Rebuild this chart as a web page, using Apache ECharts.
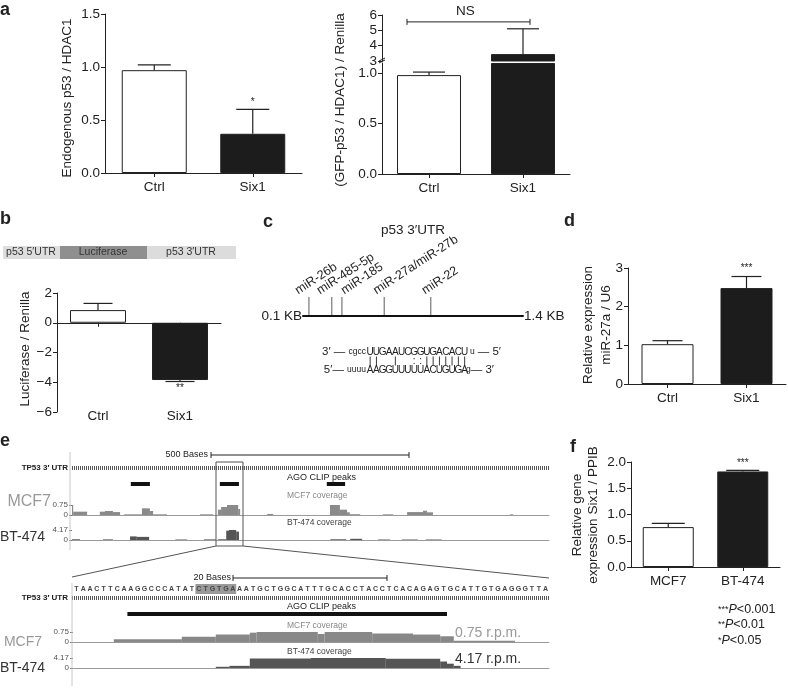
<!DOCTYPE html>
<html>
<head>
<meta charset="utf-8">
<script src="https://cdn.jsdelivr.net/npm/echarts@6/dist/echarts.min.js"></script>
<style>
  html, body { margin: 0; padding: 0; background: #fff; }
  #chart { width: 788px; height: 688px; }
</style>
</head>
<body>
<div id="chart"></div>
<script>
// ---- data ----
// panel a
const aCats = ['Ctrl', 'Six1'];
const aLeftVals = [0.97, 0.37];
const aLeftErr = [1.02, 0.60];
const aLeftSig = ['', '*'];
const aLeftSigY = [0, 0.67];
const aRightLow = [0.98, 1.1];      // part below the axis break
const aRightLowErr = [1.01, null];
const aRightHigh = [null, 3.45];    // part above the axis break
const aRightHighErr = [null, 5.1];
const aRightNS = [5.55];
// panel b
const bVals = [0.85, -3.85];
const bErr = [1.3, -3.95];
const bSig = ['', '**'];
const bSigY = [0, -4.4];
// panel c
const siteNames = ['miR-26b', 'miR-485-5p', 'miR-185', 'miR-27a/miR-27b', 'miR-22'];
const siteKb = [0.135, 0.27, 0.33, 0.58, 0.855];
const mirStrand = 'UUGAAUCGGUGACACU';
const utrStrand = 'AAGGUUUUUACUGUGA';
// panel d
const dVals = [1.03, 2.48];
const dErr = [1.12, 2.78];
const dSig = ['', '***'];
const dSigY = [0, 3.0];
// panel f
const fCats = ['MCF7', 'BT-474'];
const fVals = [0.76, 1.82];
const fErr = [0.83, 1.84];
const fSig = ['', '***'];
const fSigY = [0, 1.98];
// panel e, overview track (bases): [start, end] and [start, end, value]
const ePeaks = [[148, 196], [372, 420], [641, 687]];
const eMcf7 = [[0, 3, 0.75], [3, 38, 0.25], [70, 83, 0.25], [83, 103, 0.3], [103, 121, 0.22],
  [131, 176, 0.05], [176, 196, 0.5], [196, 204, 0.3], [204, 239, 0.05], [322, 355, 0.05],
  [367, 375, 0.4], [375, 390, 0.6], [390, 418, 0.75], [418, 423, 0.45], [491, 506, 0.08],
  [649, 674, 0.75], [674, 692, 0.4], [692, 699, 0.2], [699, 725, 0.06], [782, 808, 0.05],
  [843, 883, 0.22], [883, 893, 0.32], [893, 908, 0.2], [1102, 1110, 0.05]];
const eBt474 = [[0, 20, 0.3], [78, 103, 0.25], [146, 163, 1.5], [163, 194, 1.3], [260, 290, 0.2],
  [332, 362, 0.25], [367, 388, 0.3], [388, 395, 3.9], [395, 413, 4.17], [413, 420, 3.5],
  [650, 690, 0.3], [700, 730, 0.5], [770, 800, 0.2], [830, 870, 0.2], [890, 930, 0.2]];
// panel e, zoomed track (bases)
const seq = 'TAACTTCAAGGCCCATATCTGTGAAATGCTGGCATTTGCACCTACCTCACAGAGTGCATTGTGAGGGTTA';
const seqSite = [[18, 24]];
const zPeaks = [[8, 55]];
const zMcf7 = [[6, 16, 0.21], [16, 21, 0.4], [21, 26, 0.56], [26, 27, 0.7], [27, 36, 0.75],
  [36, 37, 0.6], [37, 44, 0.75], [44, 50, 0.64], [50, 54, 0.56], [54, 56, 0.43], [56, 65, 0.1]];
const zBt474 = [[21, 23, 0.5], [23, 26, 0.9], [26, 35, 4.0], [35, 46, 4.17], [46, 54, 3.9],
  [54, 55, 2.7], [55, 56, 1.8], [56, 57, 0.9]];

// ---- styles ----
const FONT = "'Liberation Sans', Arial, Helvetica, sans-serif";
const INK = '#222';
const barColors = ['#ffffff', '#1c1c1c'];
const siteLabelDx = [-9, -10, 4, -6, -4];   // label start relative to its tick

const grids = [], xAxes = [], yAxes = [], series = [];

function addGrid(box, xa, ya) {
  const i = grids.length;
  grids.push(box);
  xa.gridIndex = i;
  ya.gridIndex = i;
  xAxes.push(xa);
  yAxes.push(ya);
  return i;
}

function catAxis(cats) {
  return {
    type: 'category', data: cats,
    axisLine: { show: true, onZero: false, lineStyle: { color: INK, width: 1 } },
    axisTick: { show: true, alignWithLabel: true, length: 4, lineStyle: { color: INK } },
    axisLabel: { color: INK, fontSize: 13.5, fontFamily: FONT, margin: 7 },
    splitLine: { show: false }
  };
}

function valAxis(min, max, interval, fmt) {
  return {
    type: 'value', min, max, interval,
    axisLine: { show: true, lineStyle: { color: INK, width: 1 } },
    axisTick: { show: true, length: 4, lineStyle: { color: INK } },
    axisLabel: { color: INK, fontSize: 13.5, fontFamily: FONT, margin: 5, formatter: fmt },
    splitLine: { show: false }
  };
}

function bars(gi, vals, width) {
  return {
    type: 'bar', xAxisIndex: gi, yAxisIndex: gi, barWidth: width, clip: true, z: 2,
    data: vals.map((v, i) => ({ value: v == null ? '-' : v, itemStyle: { color: barColors[i] } })),
    itemStyle: { borderColor: INK, borderWidth: 1 }
  };
}

function errorBars(gi, vals, errs, capW) {
  return {
    type: 'custom', xAxisIndex: gi, yAxisIndex: gi, z: 3,
    data: vals.map((v, i) => [i, v, errs[i]]),
    renderItem(params, api) {
      const e = api.value(2);
      if (isNaN(e) || isNaN(api.value(1))) return null;
      const a = api.coord([api.value(0), api.value(1)]);
      const b = api.coord([api.value(0), e]);
      const st = { stroke: INK, lineWidth: 1.2 };
      return { type: 'group', children: [
        { type: 'line', shape: { x1: a[0], y1: a[1], x2: b[0], y2: b[1] }, style: st },
        { type: 'line', shape: { x1: b[0] - capW / 2, y1: b[1], x2: b[0] + capW / 2, y2: b[1] }, style: st }
      ] };
    }
  };
}

function sigMarks(gi, ys, texts) {
  return {
    type: 'custom', xAxisIndex: gi, yAxisIndex: gi, z: 4,
    data: ys.map((y, i) => [i, y]),
    renderItem(params, api) {
      const t = texts[params.dataIndex];
      if (!t) return null;
      const p = api.coord([api.value(0), api.value(1)]);
      return { type: 'text', x: p[0], y: p[1], style: { text: t, fill: INK, fontSize: 10, fontFamily: FONT, align: 'center', verticalAlign: 'middle' } };
    }
  };
}

function segRects(gi, segs, color, z) {
  return {
    type: 'custom', xAxisIndex: gi, yAxisIndex: gi, clip: true, z: z || 2,
    data: segs.map(s => [s[0], s[1], s.length > 2 ? s[2] : 1]),
    renderItem(params, api) {
      const a = api.coord([api.value(0), api.value(2)]);
      const b = api.coord([api.value(1), 0]);
      return { type: 'rect', shape: { x: a[0], y: a[1], width: b[0] - a[0], height: b[1] - a[1] }, style: { fill: color } };
    }
  };
}

function trackX(max, showLine) {
  return {
    type: 'value', min: 0, max,
    axisLine: { show: showLine, onZero: false, lineStyle: { color: '#9a9a9a', width: 1 } },
    axisTick: { show: false }, axisLabel: { show: false }, splitLine: { show: false }
  };
}

function trackY(max) {
  return {
    type: 'value', min: 0, max, interval: max,
    axisLine: { show: false },
    axisTick: { show: true, length: 3, lineStyle: { color: '#777' } },
    axisLabel: { color: '#555', fontSize: 8, fontFamily: FONT, margin: 4, formatter: v => v === 0 ? '0' : v.toFixed(2) },
    splitLine: { show: false }
  };
}

function hiddenY() {
  return { type: 'value', min: 0, max: 1, show: false };
}

const fmt1 = v => v.toFixed(1);
const fmtInt = v => (v < 0 ? '\u2212' + (-v) : String(v));

// ---- panel a ----
const gA1 = addGrid({ left: 105, top: 14, width: 197, height: 159 }, catAxis(aCats), valAxis(0, 1.5, 0.5, fmt1));
series.push(bars(gA1, aLeftVals, 65), errorBars(gA1, aLeftVals, aLeftErr, 33), sigMarks(gA1, aLeftSigY, aLeftSig));

const upX = catAxis(aCats);
upX.show = false;
const gA2u = addGrid({ left: 382, top: 15, width: 188, height: 46 }, upX, valAxis(3, 6, 1, v => String(v)));
const lowY = valAxis(0, 1.1, 0.5, fmt1);
lowY.axisLabel.customValues = [0, 0.5, 1];
lowY.axisTick.customValues = [0, 0.5, 1];
const gA2l = addGrid({ left: 382, top: 63, width: 188, height: 111 }, catAxis(aCats), lowY);
series.push(bars(gA2u, aRightHigh, 64), errorBars(gA2u, aRightHigh, aRightHighErr, 32));
series.push(bars(gA2l, aRightLow, 64), errorBars(gA2l, aRightLow, aRightLowErr, 32));
series.push({
  type: 'custom', xAxisIndex: gA2u, yAxisIndex: gA2u, z: 4, data: aRightNS.map(y => [0, y]),
  renderItem(params, api) {
    const c0 = api.coord([0, api.value(1)]);
    const c1 = api.coord([1, api.value(1)]);
    const x0 = c0[0] - 22, x1 = c1[0] + 7, y = c0[1];
    const st = { stroke: INK, lineWidth: 1 };
    return { type: 'group', children: [
      { type: 'line', shape: { x1: x0, y1: y, x2: x1, y2: y }, style: st },
      { type: 'line', shape: { x1: x0, y1: y - 3, x2: x0, y2: y + 3 }, style: st },
      { type: 'line', shape: { x1: x1, y1: y - 3, x2: x1, y2: y + 3 }, style: st },
      { type: 'text', x: (x0 + x1) / 2 - 3, y: y - 11, style: { text: 'NS', fill: INK, fontSize: 13.5, fontFamily: FONT, align: 'center', verticalAlign: 'middle' } }
    ] };
  }
});

// ---- panel b ----
const bX = catAxis(aCats);
bX.position = 'top';
bX.axisLine.onZero = true;
bX.axisTick.inside = true;
bX.axisLabel.show = false;
const gB = addGrid({ left: 57, top: 293, width: 164, height: 119 }, bX, valAxis(-6, 2, 2, fmtInt));
series.push(bars(gB, bVals, 56), errorBars(gB, bVals, bErr, 29), sigMarks(gB, bSigY, bSig));

// ---- panel c ----
const gC = addGrid({ left: 303, top: 290, width: 220, height: 26 }, {
  type: 'value', min: 0.1, max: 1.4,
  axisLine: { show: true, onZero: false, lineStyle: { color: '#111', width: 2 } },
  axisTick: { show: false }, axisLabel: { show: false }, splitLine: { show: false }
}, hiddenY());
series.push({
  type: 'custom', xAxisIndex: gC, yAxisIndex: gC, z: 3,
  data: siteKb.map(k => [k, 0]),
  renderItem(params, api) {
    const p = api.coord([api.value(0), 0]);
    const i = params.dataIndex;
    return { type: 'group', children: [
      { type: 'line', shape: { x1: p[0], y1: p[1] - 1, x2: p[0], y2: p[1] - 19 }, style: { stroke: '#777', lineWidth: 1.2 } },
      { type: 'text', x: p[0] + siteLabelDx[i], y: p[1] - 19, rotation: 33 * Math.PI / 180,
        style: { text: siteNames[i], fill: INK, fontSize: 12.5, fontFamily: FONT, align: 'left', verticalAlign: 'bottom' } }
    ] };
  }
});

// ---- panel d ----
const gD = addGrid({ left: 628, top: 268, width: 158, height: 116 }, catAxis(aCats), valAxis(0, 3, 1, v => String(v)));
series.push(bars(gD, dVals, 52), errorBars(gD, dVals, dErr, 30), sigMarks(gD, dSigY, dSig));

// ---- panel f ----
const gF = addGrid({ left: 631, top: 462, width: 149, height: 105 }, catAxis(fCats), valAxis(0, 2, 0.5, fmt1));
series.push(bars(gF, fVals, 51), errorBars(gF, fVals, fErr, 33), sigMarks(gF, fSigY, fSig));

// ---- panel e, overview ----
const eW = { left: 72, width: 477 };
const gEp = addGrid(Object.assign({ top: 482, height: 4 }, eW), trackX(1200, false), hiddenY());
const gEm = addGrid(Object.assign({ top: 505, height: 10 }, eW), trackX(1200, true), trackY(0.75));
const gEb = addGrid(Object.assign({ top: 530, height: 10 }, eW), trackX(1200, true), trackY(4.17));
series.push(segRects(gEp, ePeaks, '#111'), segRects(gEm, eMcf7, '#8a8a8a'), segRects(gEb, eBt474, '#555'));

// ---- panel e, zoomed ----
const zW = { left: 73, width: 476 };
const gZs = addGrid(Object.assign({ top: 584, height: 10 }, zW), trackX(seq.length, false), hiddenY());
const gZp = addGrid(Object.assign({ top: 612, height: 4 }, zW), trackX(seq.length, false), hiddenY());
const gZm = addGrid(Object.assign({ top: 632, height: 10 }, zW), trackX(seq.length, true), trackY(0.75));
const gZb = addGrid(Object.assign({ top: 658, height: 10 }, zW), trackX(seq.length, true), trackY(4.17));
series.push(segRects(gZs, seqSite, '#9a9a9a', 1));
series.push({
  type: 'custom', xAxisIndex: gZs, yAxisIndex: gZs, z: 3,
  data: seq.split('').map((c, i) => [i]),
  renderItem(params, api) {
    const i = params.dataIndex;
    const p = api.coord([i + 0.5, 0.5]);
    return { type: 'text', x: p[0], y: p[1], style: { text: seq[i], fill: '#444', fontSize: 7, fontWeight: 'bold', fontFamily: FONT, align: 'center', verticalAlign: 'middle' } };
  }
});
series.push(segRects(gZp, zPeaks, '#111'), segRects(gZm, zMcf7, '#888'), segRects(gZb, zBt474, '#555'));

// b: labels at the bottom of the plot, line at zero
xAxes.push({
  type: 'category', gridIndex: gB, data: aCats, position: 'bottom',
  axisLine: { show: false }, axisTick: { show: false },
  axisLabel: { color: INK, fontSize: 13.5, fontFamily: FONT, margin: -3 }
});

// ---- annotations ----
function txt(x, y, text, o) {
  return { type: 'text', x, y, silent: true, z: 10,
    style: Object.assign({ text, fill: INK, fontSize: 13.5, fontFamily: FONT, align: 'left', verticalAlign: 'middle' }, o || {}) };
}
function ln(x1, y1, x2, y2, o) {
  return { type: 'line', silent: true, z: 10, shape: { x1, y1, x2, y2 }, style: Object.assign({ stroke: INK, lineWidth: 1 }, o || {}) };
}
const bold = { fontSize: 18, fontWeight: 'bold' };
const rich9 = { s: { fontSize: 8.5, fontFamily: FONT, fill: INK } };
const richP = { s: { fontSize: 9, fontFamily: FONT, fill: INK }, i: { fontSize: 12.5, fontStyle: 'italic', fontFamily: FONT, fill: INK } };
const graphic = [
  txt(0, 10, 'a', bold), txt(0, 219, 'b', bold), txt(263, 222, 'c', bold),
  txt(564, 221, 'd', bold), txt(0, 441, 'e', bold), txt(570, 447, 'f', bold),
  // axis titles
  Object.assign(txt(67, 98, 'Endogenous p53 / HDAC1', { align: 'center' }), { rotation: Math.PI / 2 }),
  Object.assign(txt(340, 100, '(GFP-p53 / HDAC1) / Renilla', { align: 'center' }), { rotation: Math.PI / 2 }),
  Object.assign(txt(25, 349, 'Luciferase / Renilla', { align: 'center' }), { rotation: Math.PI / 2 }),
  Object.assign(txt(597, 325, 'Relative expression\nmiR-27a / U6', { align: 'center', lineHeight: 18 }), { rotation: Math.PI / 2 }),
  Object.assign(txt(585, 515, 'Relative gene\nexpression Six1 / PPIB', { align: 'center', lineHeight: 16 }), { rotation: Math.PI / 2 }),
  // break mark on a (right)
  ln(379, 63, 385, 60), ln(379, 61, 385, 58),
  // b construct
  { type: 'rect', silent: true, shape: { x: 3, y: 246, width: 57, height: 13 }, style: { fill: '#dedede' } },
  { type: 'rect', silent: true, shape: { x: 60, y: 246, width: 87, height: 13 }, style: { fill: '#8f8f8f' } },
  { type: 'rect', silent: true, shape: { x: 147, y: 246, width: 89, height: 13 }, style: { fill: '#dcdcdc' } },
  txt(31, 252.5, 'p53 5\u2032UTR', { align: 'center', fontSize: 10.5, fill: '#333' }),
  txt(103, 252.5, 'Luciferase', { align: 'center', fontSize: 10.5, fill: '#333' }),
  txt(191, 252.5, 'p53 3\u2032UTR', { align: 'center', fontSize: 10.5, fill: '#333' }),
  // c
  txt(413, 230, 'p53 3\u2032UTR', { align: 'center' }),
  txt(302, 316, '0.1 KB', { align: 'right' }),
  txt(524, 316, '1.4 KB'),
  txt(366, 352, '3\u2032 \u2014 {s|cgcc}', { align: 'right', fontSize: 11.5, rich: rich9 }),
  txt(470, 352, '{s|u}\u2014 5\u2032', { fontSize: 11.5, rich: { s: { fontSize: 8.5, fontFamily: FONT, fill: INK, padding: [0, 3, 0, 0] } } }),
  txt(366, 370, '5\u2032\u2014 {s|uuuu}', { align: 'right', fontSize: 11.5, rich: rich9 }),
  txt(466, 370, '{s|g}\u2014 3\u2032', { fontSize: 11.5, rich: rich9 }),
  // e overview
  txt(208, 455, '500 Bases', { align: 'right', fontSize: 9 }),
  ln(211, 455, 409, 455), ln(211, 452, 211, 458), ln(409, 452, 409, 458),
  txt(68, 468, 'TP53 3\u2032 UTR', { align: 'right', fontSize: 8, fontWeight: 'bold' }),
  ln(72, 468, 549, 468, { stroke: '#555', lineWidth: 4, lineDash: [1, 1] }),
  ln(70, 452, 70, 550, { stroke: '#c8c8c8' }),
  txt(287, 478, 'AGO CLIP peaks', { fontSize: 9 }),
  txt(287, 496, 'MCF7 coverage', { fontSize: 8.5, fill: '#888' }),
  txt(287, 523, 'BT-474 coverage', { fontSize: 8.5, fill: '#444' }),
  txt(51, 502, 'MCF7', { align: 'right', fontSize: 16, fill: '#999' }),
  txt(0, 537, 'BT-474', { fontSize: 14, fill: '#333' }),
  { type: 'rect', silent: true, z: 11, shape: { x: 216, y: 462, width: 27, height: 84 }, style: { fill: 'none', stroke: '#555', lineWidth: 1 } },
  ln(216, 546, 72, 577, { stroke: '#555' }), ln(243, 546, 549, 578, { stroke: '#555' }),
  // e zoomed
  txt(231, 578, '20 Bases', { align: 'right', fontSize: 9 }),
  ln(233, 578, 387, 578), ln(233, 575, 233, 581), ln(387, 575, 387, 581),
  txt(68, 598, 'TP53 3\u2032 UTR', { align: 'right', fontSize: 8, fontWeight: 'bold' }),
  ln(72, 598, 549, 598, { stroke: '#555', lineWidth: 4, lineDash: [1, 1] }),
  ln(72, 583, 72, 686, { stroke: '#c8c8c8' }),
  txt(287, 607, 'AGO CLIP peaks', { fontSize: 9 }),
  txt(287, 626, 'MCF7 coverage', { fontSize: 8.5, fill: '#888' }),
  txt(287, 652, 'BT-474 coverage', { fontSize: 8.5, fill: '#444' }),
  txt(42, 642, 'MCF7', { align: 'right', fontSize: 14, fill: '#999' }),
  txt(0, 668, 'BT-474', { fontSize: 14, fill: '#333' }),
  txt(455, 633, '0.75 r.p.m.', { fontSize: 14, fill: '#999' }),
  txt(455, 659, '4.17 r.p.m.', { fontSize: 14, fill: '#333' }),
  // f p-values
  txt(718, 610, '{s|***}{i|P}<0.001', { fontSize: 12.5, rich: richP }),
  txt(718, 625, '{s|**}{i|P}<0.01', { fontSize: 12.5, rich: richP }),
  txt(718, 641, '{s|*}{i|P}<0.05', { fontSize: 12.5, rich: richP })
];

// c: miRNA / UTR duplex, one column per base
const pairOf = { AU: '|', UA: '|', GC: '|', CG: '|', GU: ':', UG: ':' };
for (let i = 0; i < mirStrand.length; i++) {
  const x = 367 + (i + 0.5) * 6.3;
  graphic.push(txt(x, 352, mirStrand[i], { align: 'center', fontSize: 10 }));
  graphic.push(txt(x, 370, utrStrand[i], { align: 'center', fontSize: 10 }));
  const p = pairOf[mirStrand[i] + utrStrand[i]];
  if (p === '|') graphic.push(ln(x, 356.5, x, 365.5, { lineWidth: 0.9 }));
  if (p === ':') graphic.push(txt(x, 361, ':', { align: 'center', fontSize: 10 }));
}

const chart = echarts.init(document.getElementById('chart'));
chart.setOption({
  animation: false,
  backgroundColor: '#fff',
  textStyle: { fontFamily: FONT },
  grid: grids,
  xAxis: xAxes,
  yAxis: yAxes,
  series,
  graphic
});
</script>
</body>
</html>
